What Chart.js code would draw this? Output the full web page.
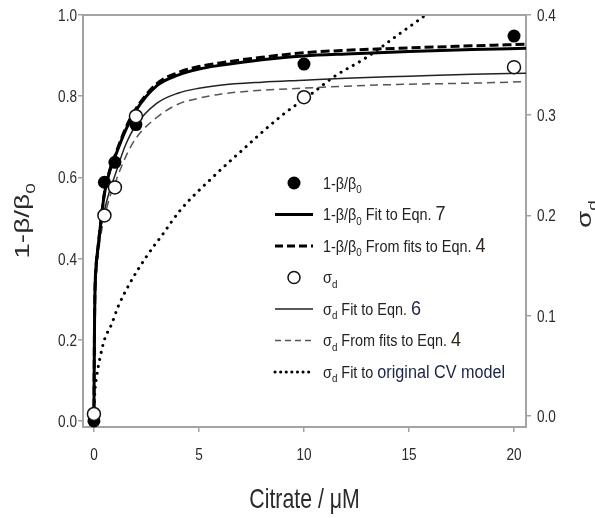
<!DOCTYPE html>
<html>
<head>
<meta charset="utf-8">
<script src="https://cdn.jsdelivr.net/npm/chart.js@4.4.1/dist/chart.umd.min.js"></script>
<style>
  body { margin: 0; background: #fff; }
  #wrap { width: 595px; height: 518px; position: relative; }
</style>
</head>
<body>
<div id="wrap"><canvas id="chart"></canvas></div>
<script>
// values
var fitX = [0, 0.01, 0.03, 0.05, 0.1, 0.2, 0.35, 0.5, 0.75, 1, 1.5, 2, 3, 4, 5, 6, 8, 10, 12, 15, 18, 20.6];
var betaFitEqn7 = [0, 0.1, 0.25, 0.32, 0.38, 0.43, 0.5, 0.56, 0.615, 0.65, 0.715, 0.765, 0.826, 0.852, 0.867, 0.876, 0.89, 0.899, 0.904, 0.91, 0.915, 0.918];
var betaFitsEqn4 = [0, 0.1, 0.25, 0.32, 0.38, 0.43, 0.5, 0.56, 0.617, 0.653, 0.72, 0.769, 0.831, 0.858, 0.873, 0.882, 0.896, 0.907, 0.913, 0.919, 0.924, 0.928];
var sigmaFitEqn6 = [0, 0.04, 0.09, 0.115, 0.14, 0.165, 0.19, 0.205, 0.225, 0.24, 0.27, 0.29, 0.312, 0.322, 0.327, 0.33, 0.333, 0.335, 0.337, 0.339, 0.341, 0.342];
var sigmaFitsEqn4 = [0, 0.04, 0.085, 0.11, 0.135, 0.16, 0.183, 0.198, 0.218, 0.232, 0.258, 0.277, 0.298, 0.311, 0.317, 0.321, 0.325, 0.327, 0.329, 0.331, 0.332, 0.3335];
var cvX = [0, 0.05, 0.13, 0.3, 0.5, 0.85, 1.15, 1.7, 2.5, 3.3, 4.1, 5.7, 7, 8.9, 10.4, 11.4, 13, 14.6, 15.8];
var sigmaCV = [0, 0.025, 0.039, 0.059, 0.076, 0.092, 0.109, 0.132, 0.159, 0.182, 0.205, 0.239, 0.264, 0.299, 0.322, 0.338, 0.358, 0.382, 0.4];

var citrate = [0, 0.5, 1, 2, 10, 20];
var betaRatio = [0, 0.588, 0.637, 0.73, 0.879, 0.948];
var sigmaD = [0.002, 0.2, 0.228, 0.299, 0.318, 0.348];

var xTicks = [0, 5, 10, 15, 20];
var leftTicks = [0, 0.2, 0.4, 0.6, 0.8, 1.0];
var rightTicks = [0, 0.1, 0.2, 0.3, 0.4];

var FONT = '"Liberation Sans", Arial, sans-serif';
var AXIS = '#a3a3a3';
var TEXT = '#2a2a2a';

function pairs(xs, ys) {
    return xs.map((x, i) => ({ x: x, y: ys[i] }));
}

// draws a run of text pieces (with subscripts), squeezed by sx
function drawRich(ctx, parts, x, y, o) {
    ctx.save();
    ctx.translate(x, y);
    if (o.rotate) ctx.rotate(o.rotate);
    ctx.scale(o.sx || 1, 1);
    ctx.textBaseline = 'alphabetic';
    ctx.textAlign = 'left';
    let w = 0;
    parts.forEach(p => {
        let size = p.size || (p.sub ? o.size * 0.68 : o.size);
        ctx.font = size + 'px ' + FONT;
        w += ctx.measureText(p.t).width;
    });
    let cx = o.align == 'center' ? -w / 2 : (o.align == 'right' ? -w : 0);
    parts.forEach(p => {
        let size = p.size || (p.sub ? o.size * 0.68 : o.size);
        ctx.font = size + 'px ' + FONT;
        ctx.fillStyle = p.color || o.color || TEXT;
        ctx.fillText(p.t, cx, p.sub ? o.size * 0.3 : 0);
        cx += ctx.measureText(p.t).width;
    });
    ctx.restore();
}

var NUM = '#2e241a';
var NAVY = '#1c2446';
var legendRows = [
    { kind: 'filled', text: [{ t: '1-β/β' }, { t: '0', sub: true }] },
    { kind: 'line', width: 3, dash: [], color: '#000', text: [{ t: '1-β/β' }, { t: '0', sub: true }, { t: ' Fit to Eqn. ' }, { t: '7', size: 20, color: NUM }] },
    { kind: 'line', width: 3, dash: [8, 4], color: '#000', text: [{ t: '1-β/β' }, { t: '0', sub: true }, { t: ' From fits to Eqn. ' }, { t: '4', size: 20, color: NUM }] },
    { kind: 'open', text: [{ t: 'σ' }, { t: 'd', sub: true }] },
    { kind: 'line', width: 1.5, dash: [], color: '#222', text: [{ t: 'σ' }, { t: 'd', sub: true }, { t: ' Fit to Eqn. ' }, { t: '6', size: 20, color: NAVY }] },
    { kind: 'line', width: 1.5, dash: [6, 4], color: '#555', text: [{ t: 'σ' }, { t: 'd', sub: true }, { t: ' From fits to Eqn. ' }, { t: '4', size: 20, color: NUM }] },
    { kind: 'dots', text: [{ t: 'σ' }, { t: 'd', sub: true }, { t: ' Fit to ' }, { t: 'original CV model', size: 18, color: NAVY }] }
];

var decor = {
    id: 'decor',
    afterDraw(chart) {
        let ctx = chart.ctx;
        let a = chart.chartArea;
        let sx = chart.scales.x, yl = chart.scales.y, yr = chart.scales.y2;

        // top frame line
        ctx.save();
        ctx.strokeStyle = AXIS;
        ctx.lineWidth = 2;
        ctx.beginPath();
        ctx.moveTo(a.left - 1, a.top);
        ctx.lineTo(a.right + 1, a.top);
        ctx.stroke();
        ctx.restore();

        // tick labels
        let tf = { size: 17, sx: 0.8, color: TEXT };
        leftTicks.forEach(v => drawRich(ctx, [{ t: v.toFixed(1) }], a.left - 6, yl.getPixelForValue(v) + 6, Object.assign({ align: 'right' }, tf)));
        rightTicks.forEach(v => drawRich(ctx, [{ t: v.toFixed(1) }], a.right + 11, yr.getPixelForValue(v) + 6, Object.assign({ align: 'left' }, tf)));
        xTicks.forEach(v => drawRich(ctx, [{ t: String(v) }], sx.getPixelForValue(v), 460, Object.assign({ align: 'center' }, tf)));

        // axis titles
        drawRich(ctx, [{ t: 'Citrate / μM' }], (a.left + a.right) / 2, 508, { size: 28, sx: 0.76, align: 'center', color: TEXT });
        drawRich(ctx, [{ t: '1-β/β' }, { t: '0', sub: true }], 29, 221, { size: 20, sx: 1.4, align: 'center', rotate: -Math.PI / 2, color: TEXT });
        drawRich(ctx, [{ t: 'σ' }, { t: 'd', sub: true }], 591, 214, { size: 20, sx: 1.4, align: 'center', rotate: -Math.PI / 2, color: TEXT });

        // legend inside the plot
        let lx0 = 275, lx1 = 313, tx = 323, y0 = 183, step = 31.5;
        legendRows.forEach((r, i) => {
            let y = y0 + step * i;
            ctx.save();
            if (r.kind == 'filled') {
                ctx.fillStyle = '#000';
                ctx.beginPath();
                ctx.arc((lx0 + lx1) / 2, y, 6.5, 0, Math.PI * 2);
                ctx.fill();
            } else if (r.kind == 'open') {
                ctx.strokeStyle = '#111';
                ctx.lineWidth = 1.5;
                ctx.fillStyle = '#fff';
                ctx.beginPath();
                ctx.arc((lx0 + lx1) / 2, y, 6, 0, Math.PI * 2);
                ctx.fill();
                ctx.stroke();
            } else {
                ctx.strokeStyle = r.color || '#000';
                ctx.lineWidth = r.width || 3;
                ctx.setLineDash(r.dash || []);
                if (r.kind == 'dots') {
                    ctx.lineWidth = 3;
                    ctx.lineCap = 'round';
                    ctx.setLineDash([0.1, 5.5]);
                }
                ctx.beginPath();
                ctx.moveTo(lx0, y);
                ctx.lineTo(lx1, y);
                ctx.stroke();
            }
            ctx.restore();
            drawRich(ctx, r.text, tx, y + 5.5, { size: 16, sx: 0.9, color: '#222' });
        });
    }
};

function axisGrid() {
    return { display: true, drawOnChartArea: false, drawTicks: true, tickLength: 5, color: AXIS, lineWidth: 1.5 };
}

new Chart(document.getElementById('chart'), {
    type: 'scatter',
    data: {
        datasets: [
            {
                label: 'σd', yAxisID: 'y2', order: 0, clip: false,
                data: pairs(citrate, sigmaD),
                pointRadius: 6.5, pointBorderWidth: 1.5,
                pointBackgroundColor: '#fff', pointBorderColor: '#111'
            },
            {
                label: '1-β/β0', yAxisID: 'y', order: 1, clip: false,
                data: pairs(citrate, betaRatio),
                pointRadius: 6.5, pointBorderWidth: 0,
                pointBackgroundColor: '#000', pointBorderColor: '#000'
            },
            {
                label: '1-β/β0 Fit to Eqn. 7', yAxisID: 'y', order: 2,
                data: pairs(fitX, betaFitEqn7), showLine: true, pointRadius: 0,
                borderColor: '#000', borderWidth: 3, cubicInterpolationMode: 'monotone'
            },
            {
                label: '1-β/β0 From fits to Eqn. 4', yAxisID: 'y', order: 3,
                data: pairs(fitX, betaFitsEqn4), showLine: true, pointRadius: 0,
                borderColor: '#000', borderWidth: 3, borderDash: [9, 4], cubicInterpolationMode: 'monotone'
            },
            {
                label: 'σd Fit to Eqn. 6', yAxisID: 'y2', order: 4,
                data: pairs(fitX, sigmaFitEqn6), showLine: true, pointRadius: 0,
                borderColor: '#222', borderWidth: 1.5, cubicInterpolationMode: 'monotone'
            },
            {
                label: 'σd From fits to Eqn. 4', yAxisID: 'y2', order: 5,
                data: pairs(fitX, sigmaFitsEqn4), showLine: true, pointRadius: 0,
                borderColor: '#555', borderWidth: 1.5, borderDash: [8, 5], cubicInterpolationMode: 'monotone'
            },
            {
                label: 'σd Fit to original CV model', yAxisID: 'y2', order: 6,
                data: pairs(cvX, sigmaCV), showLine: true, pointRadius: 0,
                borderColor: '#000', borderWidth: 3, borderDash: [0.1, 7], borderCapStyle: 'round',
                cubicInterpolationMode: 'monotone'
            }
        ]
    },
    options: {
        responsive: true,
        maintainAspectRatio: false,
        animation: false,
        events: [],
        layout: { padding: { top: 15, left: 0, right: 0, bottom: 0 } },
        plugins: { legend: { display: false }, tooltip: { enabled: false } },
        scales: {
            x: {
                type: 'linear', min: -0.52, max: 20.57,
                afterBuildTicks: s => { s.ticks = xTicks.map(v => ({ value: v })); },
                afterFit: s => { s.height = 91; },
                ticks: { display: false },
                grid: axisGrid(),
                border: { display: true, color: AXIS, width: 2 }
            },
            y: {
                position: 'left', min: -0.015, max: 1.0,
                afterBuildTicks: s => { s.ticks = leftTicks.map(v => ({ value: v })); },
                afterFit: s => { s.width = 83; },
                ticks: { display: false },
                grid: axisGrid(),
                border: { display: true, color: AXIS, width: 2 }
            },
            y2: {
                position: 'right', min: -0.011, max: 0.4,
                afterBuildTicks: s => { s.ticks = rightTicks.map(v => ({ value: v })); },
                afterFit: s => { s.width = 69; },
                ticks: { display: false },
                grid: axisGrid(),
                border: { display: true, color: AXIS, width: 2 }
            }
        }
    },
    plugins: [decor]
});
</script>
</body>
</html>
